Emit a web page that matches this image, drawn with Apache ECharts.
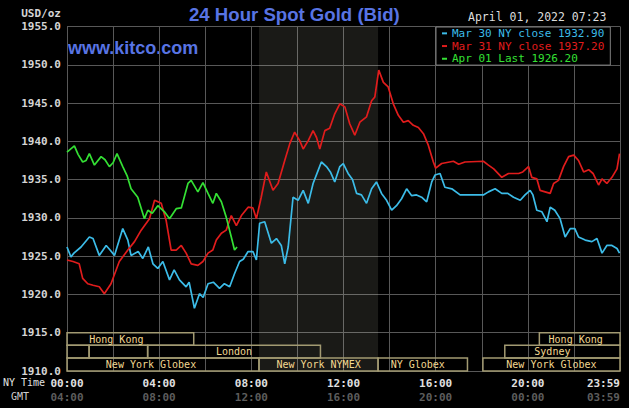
<!DOCTYPE html>
<html>
<head>
<meta charset="utf-8">
<script src="https://cdn.jsdelivr.net/npm/echarts@6/dist/echarts.min.js"></script>
<style>
  html, body { margin: 0; padding: 0; background: #000; }
  #chart { width: 629px; height: 408px; }
</style>
</head>
<body>
<div id="chart"></div>
<script>
// [NY hour, USD/oz]
const mar30 = [
  [0, 1926.2], [0.17, 1924.9], [0.3, 1925.4], [0.61, 1926.2], [0.97, 1927.5], [1.13, 1927.3],
  [1.4, 1925.1], [1.7, 1926.4], [1.87, 1925.8], [2.06, 1925.1], [2.42, 1928.6], [2.64, 1927.1],
  [2.78, 1925.1], [3.09, 1925.6], [3.29, 1924.7], [3.53, 1926.2], [3.73, 1924.0], [3.94, 1923.4],
  [4.16, 1924.3], [4.45, 1921.9], [4.65, 1923.2], [4.88, 1921.9], [5.17, 1921.0], [5.3, 1921.6],
  [5.53, 1918.2], [5.75, 1920.1], [5.91, 1919.6], [6.12, 1921.4], [6.35, 1921.6], [6.62, 1920.8],
  [6.83, 1921.4], [7.06, 1921.0], [7.27, 1922.7], [7.49, 1924.3], [7.65, 1924.6], [7.86, 1925.6],
  [8.07, 1925.6], [8.22, 1924.5], [8.36, 1929.3], [8.58, 1929.5], [8.87, 1926.7], [9.09, 1927.3],
  [9.3, 1926.4], [9.45, 1924.0], [9.6, 1926.2], [9.81, 1932.7], [10.03, 1932.3], [10.25, 1933.6],
  [10.47, 1931.9], [10.68, 1934.5], [10.9, 1936.2], [11.04, 1937.3], [11.26, 1936.7], [11.43, 1936.0],
  [11.62, 1934.7], [11.84, 1936.7], [11.99, 1937.1], [12.2, 1935.8], [12.39, 1935.0], [12.57, 1933.2],
  [12.78, 1933.0], [13.0, 1931.9], [13.22, 1933.8], [13.43, 1934.7], [13.65, 1933.2], [13.87, 1932.3],
  [14.09, 1931.0], [14.3, 1931.6], [14.52, 1932.5], [14.74, 1933.8], [14.96, 1932.9], [15.17, 1933.0],
  [15.39, 1932.7], [15.61, 1932.1], [15.83, 1934.7], [15.97, 1935.6], [16.19, 1935.8], [16.4, 1934.0],
  [16.7, 1933.8], [17.06, 1933.0], [18.07, 1933.0], [18.29, 1933.4], [18.58, 1933.8], [18.87, 1933.2],
  [19.13, 1933.2], [19.38, 1932.7], [19.67, 1932.3], [19.88, 1933.0], [20.1, 1933.6], [20.22, 1933.0],
  [20.39, 1931.0], [20.61, 1930.8], [20.83, 1929.5], [20.97, 1931.4], [21.17, 1931.0], [21.4, 1929.9],
  [21.62, 1927.5], [21.84, 1928.6], [22.04, 1928.6], [22.2, 1927.5], [22.49, 1927.1], [22.78, 1926.9],
  [23.0, 1927.3], [23.22, 1925.4], [23.43, 1926.4], [23.65, 1926.4], [23.87, 1926.0], [23.98, 1925.4]
];

const mar31 = [
  [0, 1924.5], [0.26, 1924.3], [0.53, 1924.0], [0.68, 1922.1], [0.9, 1921.4], [1.13, 1921.2],
  [1.4, 1921.0], [1.62, 1920.1], [1.91, 1921.4], [2.27, 1924.3], [2.64, 1925.8], [2.93, 1926.9],
  [3.22, 1928.4], [3.58, 1929.9], [3.8, 1932.3], [4.09, 1931.9], [4.3, 1929.7], [4.52, 1925.8],
  [4.74, 1925.8], [4.96, 1926.4], [5.17, 1925.4], [5.39, 1924.0], [5.68, 1923.8], [5.9, 1924.3],
  [6.12, 1925.4], [6.33, 1925.8], [6.48, 1927.1], [6.7, 1928.0], [6.91, 1928.4], [7.13, 1930.3],
  [7.35, 1929.0], [7.57, 1930.3], [7.86, 1931.4], [8.07, 1931.3], [8.22, 1929.9], [8.43, 1932.7],
  [8.65, 1936.0], [8.94, 1933.6], [9.16, 1934.5], [9.45, 1937.5], [9.67, 1939.7], [9.88, 1941.2],
  [10.1, 1940.1], [10.25, 1939.0], [10.47, 1940.1], [10.68, 1941.4], [10.83, 1940.5], [10.97, 1939.0],
  [11.19, 1941.4], [11.4, 1941.7], [11.62, 1943.6], [11.84, 1944.9], [12.06, 1944.5], [12.27, 1942.3],
  [12.49, 1940.8], [12.71, 1942.5], [13.0, 1943.2], [13.22, 1945.3], [13.36, 1945.8], [13.53, 1949.3],
  [13.73, 1947.7], [13.94, 1947.1], [14.16, 1944.9], [14.38, 1943.4], [14.6, 1942.5], [14.81, 1942.7],
  [15.03, 1942.1], [15.25, 1941.8], [15.47, 1941.0], [15.68, 1939.5], [15.9, 1937.3], [16.0, 1936.5],
  [16.26, 1937.1], [16.77, 1937.4], [17.0, 1937.0], [17.27, 1937.3], [18.07, 1937.4], [18.29, 1936.9],
  [18.52, 1936.4], [18.87, 1935.3], [19.16, 1935.8], [19.6, 1935.8], [19.78, 1936.0], [20.03, 1936.7],
  [20.17, 1935.3], [20.39, 1935.1], [20.53, 1933.6], [20.75, 1933.4], [20.97, 1933.2], [21.12, 1934.5],
  [21.33, 1934.9], [21.55, 1936.7], [21.77, 1938.0], [21.99, 1938.2], [22.2, 1937.5], [22.42, 1936.0],
  [22.64, 1936.3], [22.83, 1935.8], [23.07, 1934.3], [23.22, 1935.1], [23.43, 1934.5], [23.65, 1935.3],
  [23.87, 1936.4], [23.98, 1938.4]
];

const apr01 = [
  [0, 1938.6], [0.32, 1939.4], [0.48, 1938.3], [0.68, 1937.3], [0.83, 1937.5], [0.97, 1938.4],
  [1.19, 1936.9], [1.48, 1938.0], [1.65, 1937.6], [1.84, 1936.7], [2.0, 1937.2], [2.17, 1938.4],
  [2.42, 1936.7], [2.61, 1935.5], [2.78, 1933.8], [3.07, 1932.7], [3.36, 1929.9], [3.51, 1931.0],
  [3.7, 1930.6], [3.94, 1931.6], [4.23, 1930.8], [4.45, 1929.9], [4.74, 1931.2], [4.96, 1931.3],
  [5.25, 1934.5], [5.39, 1934.9], [5.68, 1933.4], [5.9, 1934.6], [6.12, 1933.2], [6.33, 1931.9],
  [6.48, 1933.2], [6.7, 1932.1], [6.91, 1930.1], [7.13, 1927.5], [7.27, 1925.8], [7.38, 1926.2]
];

const seriesNames = ['Mar 30 NY close 1932.90', 'Mar 31 NY close 1937.20', 'Apr 01 Last 1926.20'];
const seriesColors = ['#3cbce8', '#e01c1c', '#34e034'];

// COMEX hours (shaded)
const comexHours = [8.333, 13.5];

// trading sessions: name, start, end, row (0 = top)
const sessionNames = ['Hong Kong', 'Hong Kong', '', '', 'London', 'Sydney',
  'New York Globex', 'New York NYMEX', 'NY Globex', 'New York Globex'];
const sessionStart = [0, 20.5, 0, 0.96, 3.5, 19, 0, 8.333, 13.5, 18.05];
const sessionEnd = [5.5, 24, 0.96, 3.5, 11, 24, 8.333, 13.5, 17.38, 24];
const sessionRow = [0, 0, 1, 1, 1, 1, 2, 2, 2, 2];
const sessionLabelShift = [-14, -4, 0, 0, 0, -10, -12, 0, -5, 0];
const rowEdges = [1915, 1913.35, 1911.7, 1910];

const yTicks = [1910, 1955, 5];

const mono = '"DejaVu Sans Mono", "Liberation Mono", monospace';
const chart = echarts.init(document.getElementById('chart'), null, { renderer: 'svg' });

const pad2 = n => String(n).padStart(2, '0');

chart.setOption({
  backgroundColor: '#000',
  animation: false,
  grid: { left: 67, right: 9, top: 26.5, bottom: 37 },
  graphic: [
    { type: 'text', style: { x: 189, y: 14, text: '24 Hour Spot Gold (Bid)', fill: '#5874e4',
        font: 'bold 18.6px "Liberation Sans", Arial, sans-serif', textVerticalAlign: 'middle' } },
    { type: 'text', style: { x: 68, y: 48, text: 'www.kitco.com', fill: '#5874e4',
        font: 'bold 18px "Liberation Sans", Arial, sans-serif', textVerticalAlign: 'middle' } },
    { type: 'text', style: { x: 61, y: 13, text: 'USD/oz', fill: '#d4d4d4', textAlign: 'right',
        font: 'bold 11px ' + mono, textVerticalAlign: 'middle' } },
    { type: 'text', style: { x: 468, y: 17, text: 'April 01, 2022 07:23', fill: '#dcdcdc',
        font: '11.5px ' + mono, textVerticalAlign: 'middle' } },
    { type: 'text', style: { x: 3, y: 382, text: 'NY Time', fill: '#e0e0e0',
        font: '10px ' + mono, textVerticalAlign: 'middle' } },
    { type: 'text', style: { x: 11, y: 396, text: 'GMT', fill: '#d0d0d0',
        font: '10px ' + mono, textVerticalAlign: 'middle' } }
  ],
  legend: {
    orient: 'vertical',
    left: 436, top: 27,
    padding: [0, 6, 0, 6],
    itemGap: 0, itemWidth: 5, itemHeight: 2,
    icon: 'rect',
    selectedMode: false,
    backgroundColor: '#000',
    borderColor: '#808080', borderWidth: 1,
    textStyle: { fontFamily: mono, fontSize: 11, lineHeight: 12.7 },
    data: seriesNames.map((n, i) => ({ name: n, textStyle: { color: seriesColors[i] } }))
  },
  xAxis: {
    type: 'value',
    min: 0, max: 24, interval: 2,
    axisLine: { show: false },
    axisTick: { show: false },
    splitLine: { lineStyle: { color: '#585858', width: 1 } },
    axisLabel: {
      margin: 5,
      alignMaxLabel: 'right',
      formatter: v => {
        if (v % 4 !== 0) return '';
        const ny = v === 24 ? '23:59' : pad2(v) + ':00';
        const gmt = v === 24 ? '03:59' : pad2((v + 4) % 24) + ':00';
        return '{a|' + ny + '}\n{b|' + gmt + '}';
      },
      rich: {
        a: { fontFamily: mono, fontSize: 11, fontWeight: 'bold', color: '#e0e0e0', lineHeight: 14 },
        b: { fontFamily: mono, fontSize: 11, fontWeight: 'bold', color: '#5c5c5c', lineHeight: 14 }
      }
    }
  },
  yAxis: {
    type: 'value',
    min: yTicks[0], max: yTicks[1], interval: yTicks[2],
    axisLine: { show: false },
    axisTick: { show: false },
    splitLine: { lineStyle: { color: '#585858', width: 1 } },
    axisLabel: {
      margin: 6,
      color: '#d4d4d4',
      fontFamily: mono, fontSize: 11, fontWeight: 'bold',
      formatter: v => v.toFixed(1)
    }
  },
  series: [
    {
      // COMEX trading hours, translucent so the grid shows through
      type: 'line', data: [], silent: true,
      markArea: {
        silent: true,
        itemStyle: { color: 'rgba(255,255,228,0.1)' },
        data: [[{ xAxis: comexHours[0] }, { xAxis: comexHours[1] }]]
      }
    },
    ...[mar30, mar31, apr01].map((d, i) => ({
      name: seriesNames[i],
      type: 'line',
      data: d,
      symbol: 'none',
      color: seriesColors[i],
      lineStyle: { color: seriesColors[i], width: 1.7 },
      z: 3 + i
    })),
    {
      // trading sessions
      type: 'line', data: [], z: 8, silent: true,
      markArea: {
        silent: true,
        itemStyle: { color: 'rgba(0,0,0,0)', borderColor: '#a29a72', borderWidth: 1.5 },
        label: { show: true, position: 'inside', color: '#f2d890', fontFamily: mono, fontSize: 10 },
        data: sessionNames.map((n, i) => [
          { name: n, xAxis: sessionStart[i], yAxis: rowEdges[sessionRow[i]],
            label: { offset: [sessionLabelShift[i], 0] } },
          { xAxis: sessionEnd[i], yAxis: rowEdges[sessionRow[i] + 1] }
        ])
      }
    }
  ]
});
</script>
</body>
</html>
